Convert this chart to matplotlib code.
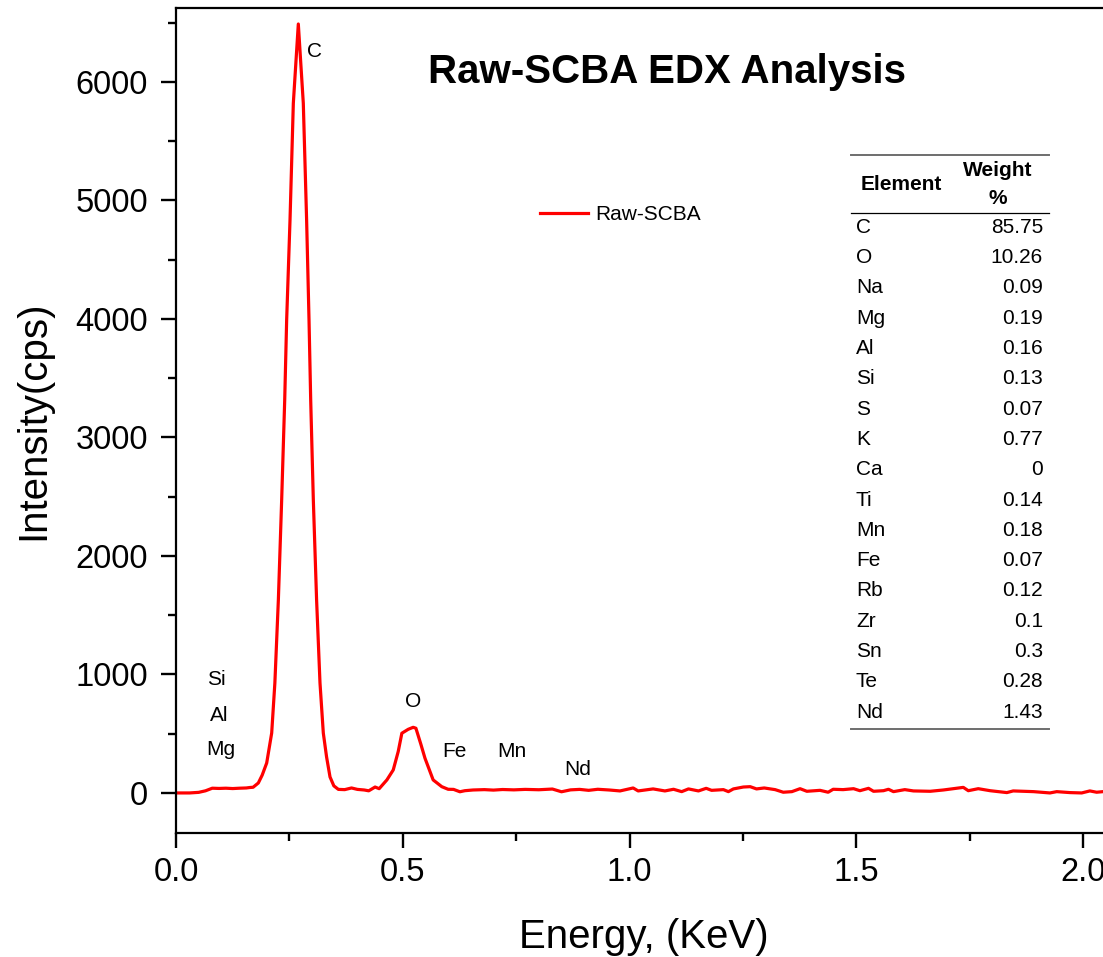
import matplotlib
matplotlib.use("Agg")
import matplotlib.pyplot as plt
from matplotlib.lines import Line2D

plt.rcParams['font.family'] = ['Liberation Sans', 'DejaVu Sans']

# ---- spectrum data ----
energy = [0.000, 0.030, 0.050, 0.065, 0.080, 0.095, 0.110, 0.125, 0.140, 0.155,
          0.163, 0.170, 0.1815, 0.190, 0.200, 0.211, 0.218, 0.2257, 0.233, 0.2397,
          0.244, 0.2514, 0.2587, 0.2697, 0.2807, 0.288, 0.2933, 0.297, 0.3028, 0.310,
          0.3175, 0.3248, 0.332, 0.3396, 0.348, 0.358, 0.372, 0.387, 0.400, 0.415,
          0.425, 0.439, 0.448, 0.465, 0.479, 0.490, 0.498, 0.512, 0.523, 0.529,
          0.540, 0.549, 0.567, 0.586, 0.600, 0.612, 0.626, 0.637, 0.655, 0.680,
          0.700, 0.720, 0.745, 0.770, 0.800, 0.830, 0.850, 0.870, 0.890, 0.910,
          0.930, 0.955, 0.979, 1.008, 1.019, 1.052, 1.078, 1.097, 1.115, 1.130,
          1.152, 1.169, 1.181, 1.207, 1.218, 1.229, 1.251, 1.266, 1.280, 1.297,
          1.321, 1.339, 1.358, 1.376, 1.391, 1.420, 1.438, 1.449, 1.471, 1.494,
          1.508, 1.527, 1.538, 1.560, 1.571, 1.582, 1.607, 1.626, 1.663, 1.692,
          1.736, 1.747, 1.769, 1.795, 1.832, 1.846, 1.891, 1.927, 1.942, 1.971,
          1.997, 2.015, 2.030, 2.044]
intensity = [0, 0, 5, 18, 40, 38, 40, 37, 40, 42,
             46, 48, 84, 150, 253, 506, 928, 1629, 2473, 3316,
             3992, 4835, 5820, 6489, 5820, 4835, 3992, 3316, 2473, 1629,
             928, 506, 304, 135, 60, 30, 28, 42, 30, 25,
             18, 50, 36, 110, 194, 350, 504, 537, 554, 546,
             410, 293, 110, 53, 31, 30, 10, 19, 25, 28,
             24, 29, 26, 30, 27, 33, 10, 26, 30, 22,
             31, 25, 17, 42, 17, 34, 17, 31, 11, 34,
             17, 39, 22, 28, 11, 34, 50, 53, 34, 42,
             28, 6, 11, 36, 14, 22, 6, 31, 28, 36,
             19, 39, 14, 19, 31, 11, 28, 17, 14, 25,
             47, 19, 36, 19, 3, 17, 11, 0, 11, 3,
             0, 17, 6, 11]

# ---- peak labels ----
peak_labels = ['C', 'Si', 'Al', 'Mg', 'O', 'Fe', 'Mn', 'Nd']
peak_x = [0.306, 0.088, 0.095, 0.099, 0.523, 0.615, 0.741, 0.886]
peak_y = [6253, 954, 650, 363, 768, 346, 346, 194]

# ---- composition table ----
elements = ['C', 'O', 'Na', 'Mg', 'Al', 'Si', 'S', 'K', 'Ca', 'Ti', 'Mn', 'Fe',
            'Rb', 'Zr', 'Sn', 'Te', 'Nd']
weights = ['85.75', '10.26', '0.09', '0.19', '0.16', '0.13', '0.07', '0.77', '0',
           '0.14', '0.18', '0.07', '0.12', '0.1', '0.3', '0.28', '1.43']

W, H = 1103, 957
fig = plt.figure(figsize=(W / 100, H / 100), dpi=100)
ax = fig.add_axes([176 / W, (H - 833) / H, (W - 176) / W, 825 / H])

ax.plot(energy, intensity, color='#ff0000', lw=2.3, label='Raw-SCBA')

ax.set_xlim(0, 2.044)
ax.set_ylim(-338, 6624)
ax.set_xticks([0.0, 0.5, 1.0, 1.5, 2.0])
ax.set_xticks([0.25, 0.75, 1.25, 1.75], minor=True)
ax.set_yticks([0, 1000, 2000, 3000, 4000, 5000, 6000])
ax.set_yticks([500, 1500, 2500, 3500, 4500, 5500, 6500], minor=True)
ax.set_xticklabels(['0.0', '0.5', '1.0', '1.5', '2.0'])

ax.spines['right'].set_visible(False)
for s in ['left', 'bottom', 'top']:
    ax.spines[s].set_linewidth(1.6)
ax.tick_params(axis='both', which='major', direction='out', length=11, width=1.7,
               labelsize=23.5)
ax.tick_params(axis='both', which='minor', direction='out', length=5.5, width=1.7)
ax.tick_params(axis='y', which='major', pad=9)
ax.tick_params(axis='x', which='major', pad=6)

ax.set_xlabel('Energy, (KeV)', fontsize=29)
ax.set_ylabel('Intensity(cps)', fontsize=29)
ax.xaxis.set_label_coords((644 - 176) / 927, (833 - 918) / 825)
ax.yaxis.set_label_coords((52 - 176) / 927, 0.5)

for lab, x, y in zip(peak_labels, peak_x, peak_y):
    ax.text(x, y, lab, fontsize=15, ha='center', va='center')

ax.text((667 - 176) / 927, (833 - 72) / 825, 'Raw-SCBA EDX Analysis', transform=ax.transAxes,
        fontsize=29, fontweight='bold', ha='center', va='center')

fs = 15
ax.legend(loc='center left', bbox_to_anchor=((540 - 176) / 927, (833 - 215) / 825),
          frameon=False, fontsize=fs, handlelength=48 / (fs * 100 / 72),
          handletextpad=0.34, borderpad=0, borderaxespad=0)

# table drawn in figure pixel coordinates
def fx(px):
    return px / W

def fy(py):
    return 1 - py / H

fig.add_artist(Line2D([fx(851), fx(1049)], [fy(155), fy(155)], color='#6e6e6e', lw=1.4))
fig.add_artist(Line2D([fx(851), fx(1049)], [fy(212.5), fy(212.5)], color='#000000', lw=0.9))
fig.add_artist(Line2D([fx(851), fx(1049)], [fy(729), fy(729)], color='#6e6e6e', lw=1.4))
fig.text(fx(861), fy(185), 'Element', fontsize=fs, fontweight='bold', ha='left', va='center')
fig.text(fx(998), fy(170), 'Weight', fontsize=fs, fontweight='bold', ha='center', va='center')
fig.text(fx(998), fy(199), '%', fontsize=fs, fontweight='bold', ha='center', va='center')
for i, (el, wt) in enumerate(zip(elements, weights)):
    yy = 227.3 + i * 30.3
    fig.text(fx(856), fy(yy), el, fontsize=fs, ha='left', va='center')
    fig.text(fx(1043), fy(yy), wt, fontsize=fs, ha='right', va='center')

fig.savefig('out.png', dpi=100)
